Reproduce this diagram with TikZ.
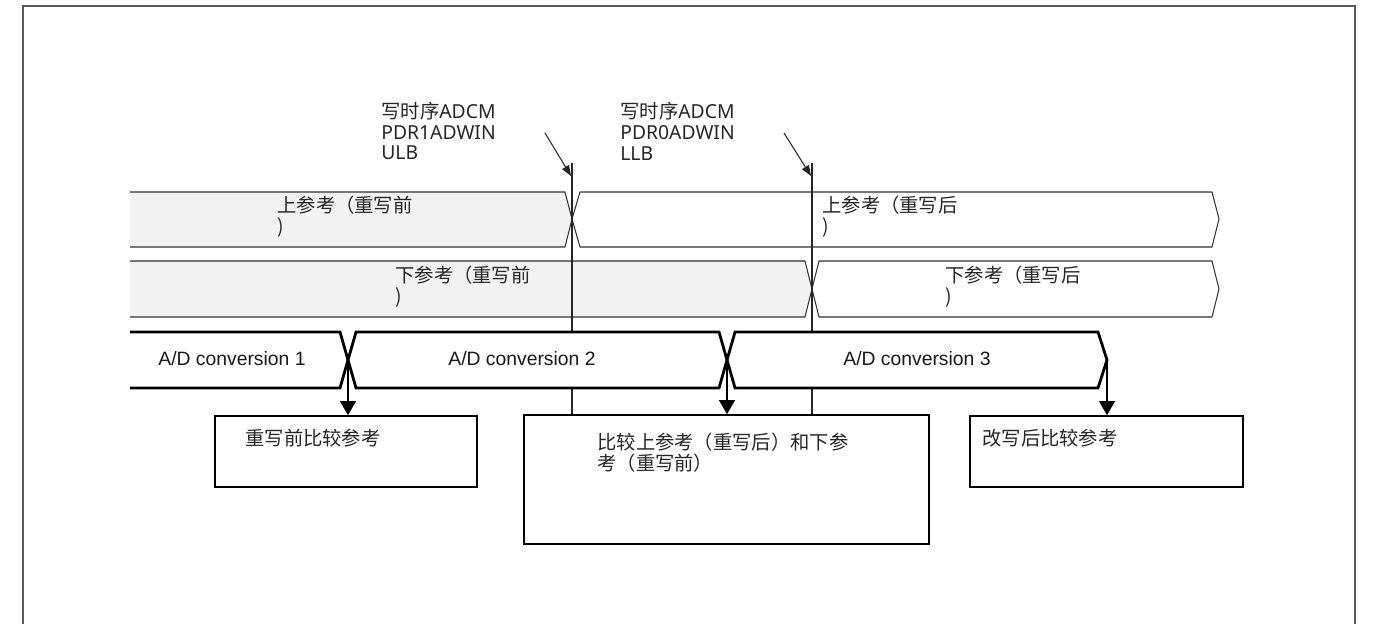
\documentclass[tikz,border=0pt]{standalone}
\usepackage{fontspec}
\setmainfont{Noto Sans}
\newfontfamily\cjk{Noto Sans CJK SC}
\newfontfamily\arialf{Liberation Sans}
\usetikzlibrary{arrows.meta,fit,shadows}
\begin{document}
\begin{tikzpicture}[x=0.02cm,y=-0.02cm,
  frameline/.style={draw=black!65, line width=0.9pt},
  refline/.style={draw=black!80, line width=0.6pt},
  grayfill/.style={fill=black!5},
  adband/.style={draw=black, line width=1.6pt, fill=white, line join=miter},
  marker/.style={draw=black!85, line width=0.6pt},
  diagarrow/.style={draw=black!85, line width=0.6pt, -{Triangle[length=6pt,width=4.5pt]}},
  downarrow/.style={draw=black, line width=0.9pt, -{Triangle[length=8pt,width=9pt]}},
  box/.style={draw=black, line width=0.9pt, fill=white, inner sep=0pt,
    drop shadow={shadow xshift=0.7pt, shadow yshift=-0.7pt, fill=black!60, opacity=1}},
  lbl/.style={font=\cjk\fontsize{11}{11.9}\selectfont, inner sep=0pt, anchor=west, align=left, text=black!85},
  toplbl/.style={font=\fontsize{11}{11.9}\selectfont, inner sep=0pt, anchor=west, align=left, text=black!85},
  adlbl/.style={font=\arialf\fontsize{11}{12}\selectfont, inner sep=0pt, text=black!90}
]
\useasboundingbox (0,0) rectangle (1373,624);
% frame
\draw[frameline] (23,624) -- (23,6) -- (1355,6) -- (1355,624);

% upper reference band
\fill[grayfill] (130,192) -- (565,192) -- (572,219) -- (565,247) -- (130,247) -- cycle;
\draw[refline] (130,192) -- (565,192) -- (572,219) -- (565,247) -- (130,247);
\draw[refline, fill=white] (572,219) -- (580,192) -- (1212,192) -- (1219,219) -- (1212,247) -- (580,247) -- cycle;
% lower reference band
\fill[grayfill] (130,261) -- (805,261) -- (812,289) -- (805,317) -- (130,317) -- cycle;
\draw[refline] (130,261) -- (805,261) -- (812,289) -- (805,317) -- (130,317);
\draw[refline, fill=white] (812,289) -- (819,261) -- (1212,261) -- (1219,289) -- (1212,317) -- (819,317) -- cycle;

% boxes
\node[box, fit={(215,416) (477,487)}] (b1) {};
\node[box, fit={(524,415) (929,544)}] (b2) {};
\node[box, fit={(970,416) (1243,487)}] (b3) {};

% marker lines
\coordinate (m1) at (572,163);
\coordinate (m2) at (812,163);
\draw[marker] (m1) -- (m1 |- b2.north);
\draw[marker] (m2) -- (m2 |- b2.north);

% A/D conversion bands
\draw[adband] (130,332) -- (340,332) -- (348,360) -- (340,388) -- (130,388);
\draw[adband] (348,360) -- (356,332) -- (719,332) -- (727,360) -- (719,388) -- (356,388) -- cycle;
\draw[adband] (727,360) -- (735,332) -- (1098,332) -- (1107,360) -- (1098,388) -- (735,388) -- cycle;

% crossing points and down arrows
\coordinate (x1) at (348,360);
\coordinate (x2) at (727,360);
\coordinate (x3) at (1107,360);
\draw[downarrow] (x1) -- (x1 |- b1.north);
\draw[downarrow] (x2) -- (x2 |- b2.north);
\draw[downarrow] (x3) -- (x3 |- b3.north);

% diagonal arrows
\coordinate (d1) at (545,133);
\coordinate (t1) at (571,176);
\coordinate (d2) at (784,133);
\coordinate (t2) at (811,176);
\draw[diagarrow] (d1) -- (t1);
\draw[diagarrow] (d2) -- (t2);

% top labels
\node[toplbl] (w1) at (381,131) {{\cjk 写时序}ADCM\\PDR1ADWIN\\ULB};
\node[toplbl] (w2) at (620,131) {{\cjk 写时序}ADCM\\PDR0ADWIN\\LLB};

% band labels
\node[lbl] (ug) at (277,217) {上参考（重写前\\)};
\node[lbl] (uw) at (822,217) {上参考（重写后\\)};
\node[lbl] (lg) at (395,287) {下参考（重写前\\)};
\node[lbl] (lw) at (945,287) {下参考（重写后\\)};

% A/D labels
\node[adlbl] (a1) at (232,359) {A/D conversion 1};
\node[adlbl] (a2) at (522,359) {A/D conversion 2};
\node[adlbl] (a3) at (917,359) {A/D conversion 3};

% box texts
\node[lbl] (bt1) at (245,438) {重写前比较参考};
\node[lbl] (bt2) at (597,453) {比较上参考（重写后）和下参\\考（重写前）};
\node[lbl] (bt3) at (982,438) {改写后比较参考};
\end{tikzpicture}
\end{document}
